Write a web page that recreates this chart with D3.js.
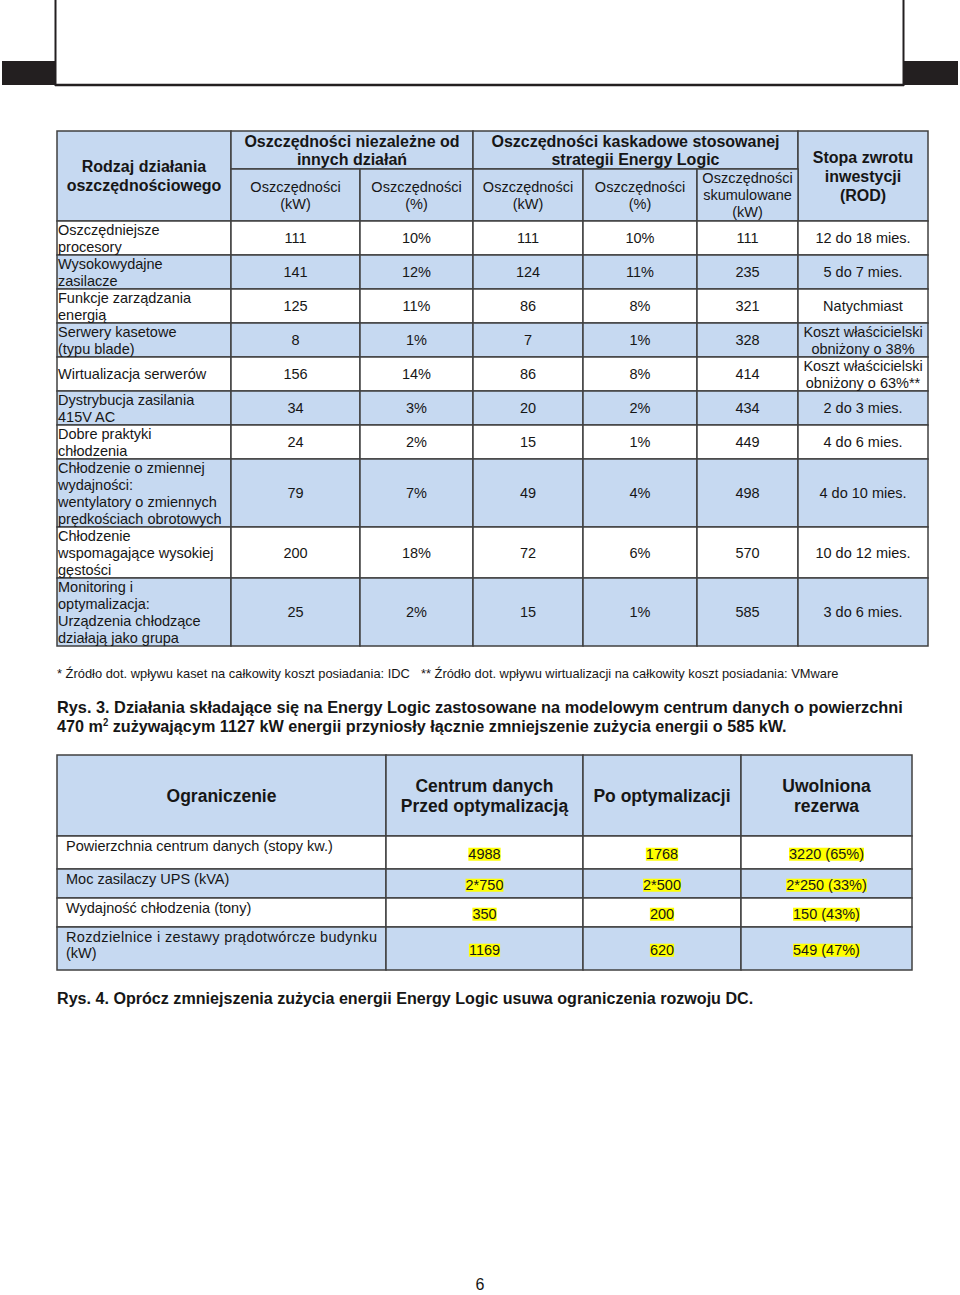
<!DOCTYPE html>
<html>
<head>
<meta charset="utf-8">
<script src="https://cdn.jsdelivr.net/npm/d3@7"></script>
<style>
  body { margin: 0; background: #fff; }
  svg { display: block; font-family: "Liberation Sans", Arial, Helvetica, sans-serif; }
</style>
</head>
<body>
<script>
// ---- table 1 (Rys. 3) ----
var actions = [
  "Oszczędniejsze\nprocesory",
  "Wysokowydajne\nzasilacze",
  "Funkcje zarządzania\nenergią",
  "Serwery kasetowe\n(typu blade)",
  "Wirtualizacja serwerów",
  "Dystrybucja zasilania\n415V AC",
  "Dobre praktyki\nchłodzenia",
  "Chłodzenie o zmiennej\nwydajności:\nwentylatory o zmiennych\nprędkościach obrotowych",
  "Chłodzenie\nwspomagające wysokiej\ngęstości",
  "Monitoring i\noptymalizacja:\nUrządzenia chłodzące\ndziałają jako grupa"
];
var indepKW  = [111, 141, 125, 8, 156, 34, 24, 79, 200, 25];
var indepPct = [10, 12, 11, 1, 14, 3, 2, 7, 18, 2];
var cascKW   = [111, 124, 86, 7, 86, 20, 15, 49, 72, 15];
var cascPct  = [10, 11, 8, 1, 8, 2, 1, 4, 6, 1];
var cumulKW  = [111, 235, 321, 328, 414, 434, 449, 498, 570, 585];
var payback  = [
  "12 do 18 mies.", "5 do 7 mies.", "Natychmiast",
  "Koszt właścicielski\nobniżony o 38%", "Koszt właścicielski\nobniżony o 63%**",
  "2 do 3 mies.", "4 do 6 mies.", "4 do 10 mies.", "10 do 12 mies.", "3 do 6 mies."
];
var head1Main = ["Rodzaj działania\noszczędnościowego", "Oszczędności niezależne od\ninnych działań",
                 "Oszczędności kaskadowe stosowanej\nstrategii Energy Logic", "Stopa zwrotu\ninwestycji\n(ROD)"];
var head1Sub = ["Oszczędności\n(kW)", "Oszczędności\n(%)", "Oszczędności\n(kW)", "Oszczędności\n(%)",
                "Oszczędności\nskumulowane\n(kW)"];

// ---- table 2 (Rys. 4) ----
var head2 = ["Ograniczenie", "Centrum danych\nPrzed optymalizacją", "Po optymalizacji", "Uwolniona\nrezerwa"];
var constraints = ["Powierzchnia centrum danych (stopy kw.)", "Moc zasilaczy UPS (kVA)",
                   "Wydajność chłodzenia (tony)", "Rozdzielnice i zestawy prądotwórcze budynku\n(kW)"];
var before = ["4988", "2*750", "350", "1169"];
var after  = ["1768", "2*500", "200", "620"];
var freed  = ["3220 (65%)", "2*250 (33%)", "150 (43%)", "549 (47%)"];

var footnote1 = "* Źródło dot. wpływu kaset na całkowity koszt posiadania: IDC";
var footnote2 = "** Źródło dot. wpływu wirtualizacji na całkowity koszt posiadania: VMware";
var caption3a = "Rys. 3. Działania składające się na Energy Logic zastosowane na modelowym centrum danych o powierzchni";
var caption3b = ["470 m", "2", " zużywającym 1127 kW energii przyniosły łącznie zmniejszenie zużycia energii o 585 kW."];
var caption4 = "Rys. 4. Oprócz zmniejszenia zużycia energii Energy Logic usuwa ograniczenia rozwoju DC.";
var pageNo = "6";

// layout
var W = 960, H = 1295;
var blue = "#c6d9f1", stroke = "#404040", ink = "#161616";

var svg = d3.select("body").append("svg")
    .attr("width", W)
    .attr("height", H);

// page frame at the top
svg.append("rect").attr("x", 2).attr("y", 61).attr("width", 54).attr("height", 24).attr("fill", "#231f20");
svg.append("rect").attr("x", 903).attr("y", 61).attr("width", 55).attr("height", 24).attr("fill", "#231f20");
svg.append("line").attr("x1", 55.5).attr("x2", 55.5).attr("y1", 0).attr("y2", 86)
    .attr("stroke", "#231f20").attr("stroke-width", 2);
svg.append("line").attr("x1", 903.5).attr("x2", 903.5).attr("y1", 0).attr("y2", 86)
    .attr("stroke", "#231f20").attr("stroke-width", 2);
svg.append("line").attr("x1", 55).attr("x2", 904).attr("y1", 85).attr("y2", 85)
    .attr("stroke", "#231f20").attr("stroke-width", 2.5);

// draws a block of lines centred vertically on cy
function lines(g, txt, x, cy, lh, anchor, size, weight) {
  var arr = txt.split("\n");
  var t = g.append("text")
      .attr("text-anchor", anchor)
      .attr("font-size", size)
      .attr("font-weight", weight || "normal")
      .attr("fill", ink);
  arr.forEach(function(s, k) {
    t.append("tspan")
        .attr("x", x)
        .attr("y", cy + (k - (arr.length - 1) / 2) * lh + size * 0.36)
        .text(s);
  });
  return t;
}

function cell(g, x0, y0, x1, y1, fill) {
  g.append("rect")
      .attr("x", x0).attr("y", y0)
      .attr("width", x1 - x0).attr("height", y1 - y0)
      .attr("fill", fill)
      .attr("stroke", stroke)
      .attr("stroke-width", 1.5);
}

// ---------------- table 1 ----------------
var e1 = [57, 231, 360, 473, 583, 697, 798, 928];
var hTop = 131, hMid = 169, hBot = 221, LH = 17;

var rows1 = actions.map(function(a, i) {
  var c = [a, String(indepKW[i]), indepPct[i] + "%", String(cascKW[i]),
           cascPct[i] + "%", String(cumulKW[i]), payback[i]];
  return { cells: c, n: d3.max(c, function(s) { return s.split("\n").length; }) };
});
var tops1 = [hBot].concat(Array.from(d3.cumsum(rows1, function(r) { return r.n * LH; }),
                                     function(v) { return hBot + v; }));

var t1 = svg.append("g");
var bg1 = t1.append("g"), tx1 = t1.append("g");

// header
cell(bg1, e1[0], hTop, e1[1], hBot, blue);
cell(bg1, e1[1], hTop, e1[3], hMid, blue);
cell(bg1, e1[3], hTop, e1[6], hMid, blue);
cell(bg1, e1[6], hTop, e1[7], hBot, blue);
head1Sub.forEach(function(s, j) { cell(bg1, e1[j + 1], hMid, e1[j + 2], hBot, blue); });

lines(tx1, head1Main[0], (e1[0] + e1[1]) / 2, (hTop + hBot) / 2, 19, "middle", 16, "bold");
lines(tx1, head1Main[1], (e1[1] + e1[3]) / 2, (hTop + hMid) / 2, 18, "middle", 16, "bold");
lines(tx1, head1Main[2], (e1[3] + e1[6]) / 2, (hTop + hMid) / 2, 18, "middle", 16, "bold");
lines(tx1, head1Main[3], (e1[6] + e1[7]) / 2, (hTop + hBot) / 2, 19, "middle", 16, "bold");
head1Sub.forEach(function(s, j) {
  lines(tx1, s, (e1[j + 1] + e1[j + 2]) / 2, (hMid + hBot) / 2, LH, "middle", 14.5);
});

// body
rows1.forEach(function(r, i) {
  var y0 = tops1[i], y1 = tops1[i + 1];
  r.cells.forEach(function(s, j) {
    cell(bg1, e1[j], y0, e1[j + 1], y1, i % 2 ? blue : "#fff");
    if (j === 0) lines(tx1, s, e1[0] + 1, (y0 + y1) / 2, LH, "start", 14.5);
    else lines(tx1, s, (e1[j] + e1[j + 1]) / 2, (y0 + y1) / 2, LH, "middle", 14.5);
  });
});

// footnotes and caption 3
function fitX(sel, x0, width) {
  var w = sel.node().getBBox().width;
  sel.attr("transform", "translate(" + x0 + ",0) scale(" + (width / w) + ",1) translate(" + (-x0) + ",0)");
}
var fn1 = svg.append("text").attr("x", 57).attr("y", 678.5).attr("font-size", 13).attr("fill", ink).text(footnote1);
fitX(fn1, 57, 353);
var fn2 = svg.append("text").attr("x", 421).attr("y", 678.5).attr("font-size", 13).attr("fill", ink).text(footnote2);
fitX(fn2, 421, 418);

var c3a = svg.append("text").attr("x", 57).attr("y", 713).attr("font-size", 17)
    .attr("font-weight", "bold").attr("fill", ink).text(caption3a);
fitX(c3a, 57, 846);
var c3b = svg.append("text").attr("x", 57).attr("y", 732).attr("font-size", 17)
    .attr("font-weight", "bold").attr("fill", ink);
c3b.append("tspan").text(caption3b[0]);
c3b.append("tspan").attr("dy", -6).attr("font-size", 10).text(caption3b[1]);
c3b.append("tspan").attr("dy", 6).text(caption3b[2]);
fitX(c3b, 57, 730);

// ---------------- table 2 ----------------
var e2 = [57, 386, 583, 741, 912];
var rowH2 = [81, 33, 29, 29, 43];
var tops2 = [755].concat(Array.from(d3.cumsum(rowH2), function(v) { return 755 + v; }));
var bg2 = svg.append("g"), tx2 = svg.append("g");

head2.forEach(function(s, j) {
  cell(bg2, e2[j], tops2[0], e2[j + 1], tops2[1], blue);
  lines(tx2, s, (e2[j] + e2[j + 1]) / 2, (tops2[0] + tops2[1]) / 2, 20, "middle", 17.5, "bold");
});

constraints.forEach(function(s, i) {
  var y0 = tops2[i + 1], y1 = tops2[i + 2];
  var fill = i % 2 ? blue : "#fff";
  var vals = [before[i], after[i], freed[i]];
  cell(bg2, e2[0], y0, e2[1], y1, fill);
  s.split("\n").forEach(function(l, k, arr) {
    var t = tx2.append("text")
        .attr("x", 66)
        .attr("y", y0 + 15 + k * 16)
        .attr("font-size", 14.5)
        .attr("fill", ink)
        .text(l);
    if (arr.length > 1 && k < arr.length - 1) t.attr("textLength", 311).attr("lengthAdjust", "spacing");
  });
  vals.forEach(function(v, j) {
    cell(bg2, e2[j + 1], y0, e2[j + 2], y1, fill);
    var hl = tx2.append("rect").attr("fill", "#ffff00");
    var t = tx2.append("text")
        .attr("x", (e2[j + 1] + e2[j + 2]) / 2)
        .attr("y", (y0 + y1) / 2 + 1 + 14.5 * 0.36)
        .attr("text-anchor", "middle")
        .attr("font-size", 14.5)
        .attr("fill", ink)
        .text(v);
    var b = t.node().getBBox();
    hl.attr("x", b.x).attr("y", b.y + 2).attr("width", b.width).attr("height", b.height - 3);
  });
});

var c4 = svg.append("text").attr("x", 57).attr("y", 1004).attr("font-size", 17)
    .attr("font-weight", "bold").attr("fill", ink).text(caption4);
fitX(c4, 57, 697);

svg.append("text").attr("x", 480).attr("y", 1290).attr("text-anchor", "middle")
    .attr("font-size", 16).attr("fill", ink).text(pageNo);
</script>
</body>
</html>
